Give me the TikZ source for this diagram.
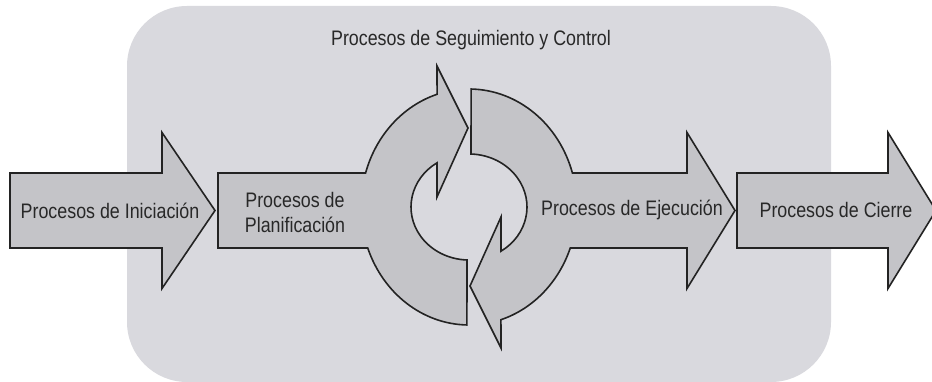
\documentclass[tikz,border=0pt]{standalone}
\usepackage{fontspec}
\setmainfont{Liberation Sans}[FakeStretch=0.85]
\usepackage{tikz}
\usetikzlibrary{calc}
\definecolor{fondo}{RGB}{217,217,222}
\definecolor{flecha}{RGB}{196,196,200}
\definecolor{borde}{RGB}{35,35,35}
\definecolor{texto}{RGB}{40,40,40}

\begin{document}
\begin{tikzpicture}[x=1pt,y=1pt,
    proc/.style={draw=borde,fill=flecha,line width=1.6pt,line join=miter},
    etiqueta/.style={text=texto,font=\fontsize{21}{25}\selectfont,align=center,inner sep=0pt},
    ext/.style={x radius=108,y radius=118},
    int/.style={x radius=58,y radius=53}]

    \clip (0,0) rectangle (932,381);
    \useasboundingbox (0,0) rectangle (932,381);

    % Background
    \fill[fondo,rounded corners=60pt] (127,-1) rectangle (831,375);

    \coordinate (C) at (469,174); % centre of the cycle

    % Straight arrows
    \foreach \xL/\xH/\xT in {10/162/215, 737/888/936}
        {
        \draw[proc] (\xL,133) -- (\xH,133) -- (\xH,92.5) -- (\xT,170.5) -- (\xH,248.5) -- (\xH,208) -- (\xL,208) -- cycle;
        }

    % Planificacion with left half of the cycle
    \draw[proc] (218,208) -- ($(C)+(163.25:108 and 118)$)
        arc[ext,start angle=163.25,end angle=107.2]
        -- (437,315) -- (468,253) -- (437,184) -- ($(C)+(123.5:58 and 53)$)
        arc[int,start angle=123.5,end angle=268]
        -- ($(C)+(268.9:108 and 118)$)
        arc[ext,start angle=268.9,end angle=200.33]
        -- (218,133) -- cycle;

    % Ejecucion with right half of the cycle
    \draw[proc] ($(C)+(88.9:108 and 118)$)
        arc[ext,start angle=88.9,end angle=16.75]
        -- (687,208) -- (687,248.5) -- (735,170.5) -- (687,92.5) -- (687,133)
        -- ($(C)+(-20.33:108 and 118)$)
        arc[ext,start angle=-20.33,end angle=-72.8]
        -- (501,33) -- (470,95) -- (501,164) -- ($(C)+(-56.5:58 and 53)$)
        arc[int,start angle=-56.5,end angle=88]
        -- cycle;

    % Labels
    \node[etiqueta] (seg) at (471,341) {Procesos de Seguimiento y Control};
    \node[etiqueta] (ini) at (110,170) {Procesos de Iniciación};
    \node[etiqueta] (plan) at (295,169) {Procesos de\\Planificación};
    \node[etiqueta] (ejec) at (632,171) {Procesos de Ejecución};
    \node[etiqueta] (cierre) at (836,171) {Procesos de Cierre};

\end{tikzpicture}
\end{document}
